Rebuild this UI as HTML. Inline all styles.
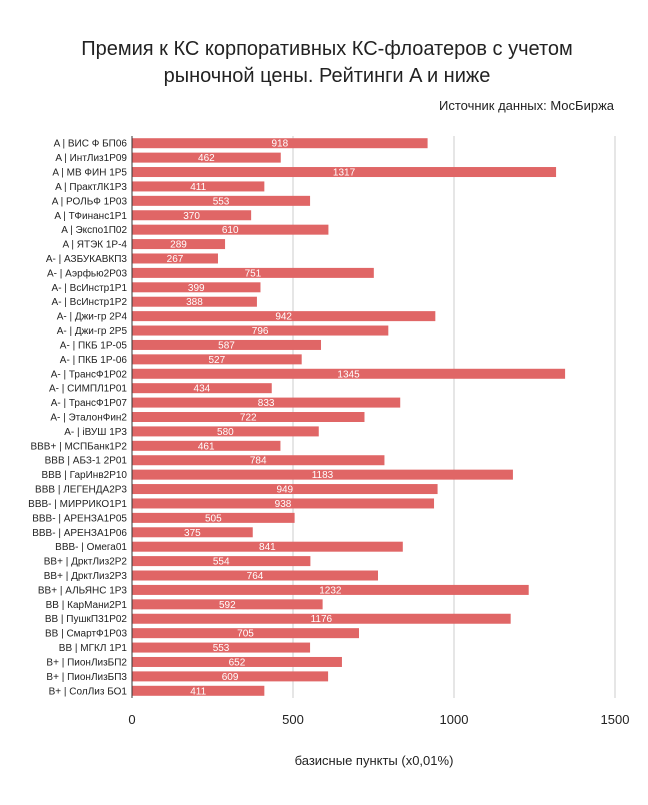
<!DOCTYPE html>
<html><head><meta charset="utf-8"><style>
body{margin:0;background:#fff;font-family:"Liberation Sans",sans-serif;}
</style></head><body>
<svg id="c" width="648" height="800" xmlns="http://www.w3.org/2000/svg">
<rect width="648" height="800" fill="#fff"/>
<text x="327" y="55" text-anchor="middle" font-size="20" fill="#222">Премия к КС корпоративных КС-флоатеров с учетом</text>
<text x="327" y="82" text-anchor="middle" font-size="20" fill="#222">рыночной цены. Рейтинги A и ниже</text>
<text x="614" y="110" text-anchor="end" font-size="13" fill="#222">Источник данных: МосБиржа</text>
<text x="374" y="765" text-anchor="middle" font-size="13" fill="#222">базисные пункты (x0,01%)</text>
<g id="g"></g>
</svg>
<script>
const categories=["A | ВИС Ф БП06","A | ИнтЛиз1P09","A | МВ ФИН 1P5","A | ПрактЛК1P3","A | РОЛЬФ 1P03","A | ТФинанс1P1","A | Экспо1П02","A | ЯТЭК 1P-4","A- | АЗБУКАВКП3","A- | Аэрфью2P03","A- | ВсИнстр1P1","A- | ВсИнстр1P2","A- | Джи-гр 2P4","A- | Джи-гр 2P5","A- | ПКБ 1P-05","A- | ПКБ 1P-06","A- | ТрансФ1P02","A- | СИМПЛ1P01","A- | ТрансФ1P07","A- | ЭталонФин2","A- | iВУШ 1P3","BBB+ | МСПБанк1P2","BBB | АБЗ-1 2P01","BBB | ГарИнв2P10","BBB | ЛЕГЕНДА2P3","BBB- | МИРРИКО1P1","BBB- | АРЕНЗА1P05","BBB- | АРЕНЗА1P06","BBB- | Омега01","BB+ | ДрктЛиз2P2","BB+ | ДрктЛиз2P3","BB+ | АЛЬЯНС 1P3","BB | КарМани2P1","BB | ПушкП31P02","BB | СмартФ1P03","BB | МГКЛ 1P1","B+ | ПионЛизБП2","B+ | ПионЛизБП3","B+ | СолЛиз БО1"];
const values=[918,462,1317,411,553,370,610,289,267,751,399,388,942,796,587,527,1345,434,833,722,580,461,784,1183,949,938,505,375,841,554,764,1232,592,1176,705,553,652,609,411];
const xTicks=[0,500,1000,1500];
const NS="http://www.w3.org/2000/svg";
const g=document.getElementById('g');
const x0=132,x1=615,xMax=1500;
const xs=v=>x0+(x1-x0)*v/xMax;
const yTop=136,yBot=698;
const step=(yBot-yTop)/categories.length;
const yc=i=>yTop+step*(i+0.5);
function mk(t,a){const e=document.createElementNS(NS,t);for(const k in a)e.setAttribute(k,a[k]);g.appendChild(e);return e;}
xTicks.forEach((t,i)=>{
 if(t>0){const l=mk('line',{x1:xs(t),x2:xs(t),y1:yTop,y2:yBot,stroke:'#ccc','stroke-width':1});
 
 }
 const tx=mk('text',{x:xs(t),y:724,'text-anchor':'middle','font-size':13,fill:'#222'});
 tx.textContent=t;
 
 
});
categories.forEach((c,i)=>{
 const y=yc(i);
 const r=mk('rect',{x:x0,y:y-5,width:xs(values[i])-x0,height:10,fill:'#e06666'});
 
 
 const lb=mk('text',{x:127,y:y+3.5,'text-anchor':'end','font-size':10,fill:'#222'});
 lb.textContent=c;
 
 
 const vl=mk('text',{x:(x0+xs(values[i]))/2,y:y+3.5,'text-anchor':'middle','font-size':10,fill:'#fff'});
 vl.textContent=values[i];
 
 
});
const ax=mk('line',{x1:x0,x2:x0,y1:yTop,y2:yBot,stroke:'#333','stroke-width':1});


</script>
</body></html>
